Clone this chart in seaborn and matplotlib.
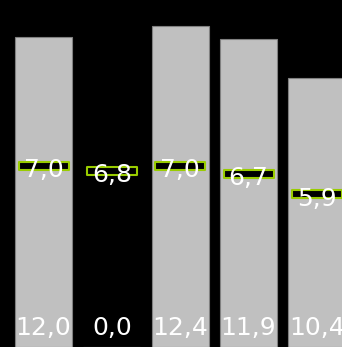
import numpy as np
import matplotlib
matplotlib.use("Agg")
import matplotlib.pyplot as plt
from matplotlib.path import Path
import pandas as pd
import seaborn as sns

# chart data
categories = ["A", "B", "C", "D", "E"]
bar_values = [12.0, 0.0, 12.4, 11.9, 10.4]
target_values = [7.0, 6.8, 7.0, 6.7, 5.9]


def fmt(v):
    return f"{v:.1f}".replace(".", ",")


sns.set_style("dark")
plt.rcParams["font.family"] = ["DejaVu Sans"]

df = pd.DataFrame({"cat": categories, "value": bar_values,
                   "target": target_values, "pos": np.arange(len(categories))})

fig = plt.figure(figsize=(3.42, 3.47), dpi=100, facecolor="black")
ax = fig.add_axes([0, 0, 1, 1])
ax.set_facecolor("black")

sns.barplot(data=df, x="cat", y="value", color="#c0c0c0", saturation=1,
            width=0.834, edgecolor="#808080", linewidth=0.8, ax=ax)

# flat rectangle marker for the targets
rect = Path([(-25, -4), (25, -4), (25, 4), (-25, 4), (-25, -4)],
            [Path.MOVETO, Path.LINETO, Path.LINETO, Path.LINETO, Path.CLOSEPOLY])
sns.scatterplot(data=df, x="pos", y="target", marker=rect, s=1296,
                color="black", edgecolor="#99cc00", linewidth=1.5,
                legend=False, ax=ax, zorder=3)

for i, row in df.iterrows():
    ax.annotate(fmt(row["target"]), (row["pos"], row["target"]),
                xytext=(0, -3), textcoords="offset points",
                ha="center", va="center", color="white", fontsize=18, zorder=4)
    ax.annotate(fmt(row["value"]), (row["pos"], 0),
                xytext=(0, 8.5), textcoords="offset points",
                ha="center", va="baseline", color="white", fontsize=18, zorder=4)

ax.set_xlim(-0.637, 4.368)
ax.set_ylim(0, 13.42)
ax.axis("off")

fig.savefig("out.png", dpi=100, facecolor="black")
